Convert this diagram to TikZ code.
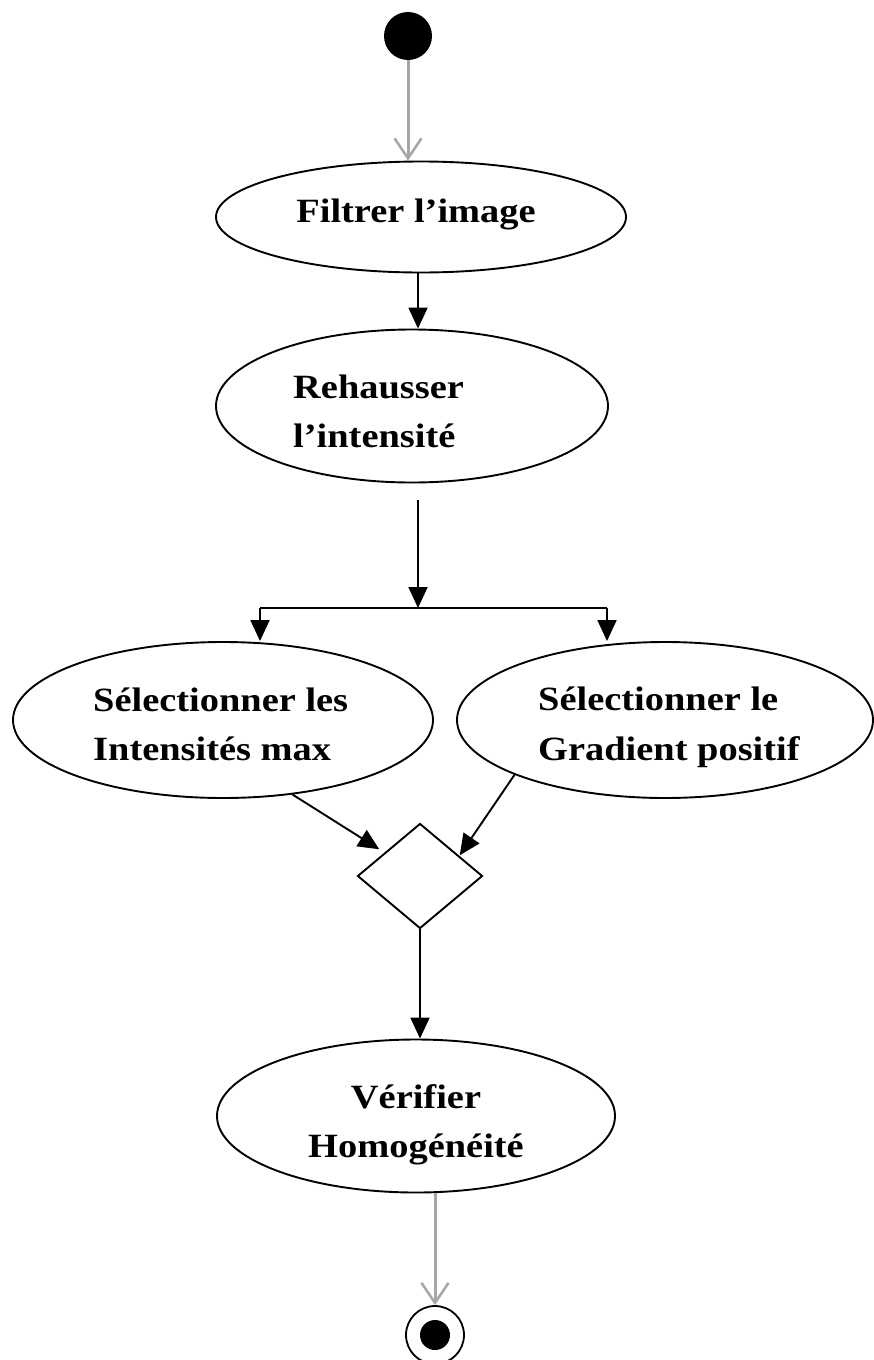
\documentclass[tikz,border=0pt]{standalone}
\usepackage{fontspec}
\setmainfont{Liberation Serif}[FakeStretch=1.13]
\usetikzlibrary{shapes.geometric,arrows.meta,calc}
\begin{document}
\begin{tikzpicture}[x=1pt,y=-1pt,
  act/.style={ellipse,draw=black,line width=1.9pt,inner sep=0pt},
  lbl/.style={anchor=base west,inner sep=0pt,font=\fontsize{34}{44}\selectfont\bfseries},
  clbl/.style={anchor=base,inner sep=0pt,font=\fontsize{34}{44}\selectfont\bfseries},
  flow/.style={draw=black,line width=1.9pt,-{Triangle[length=21pt,width=19pt]}},
  ctl/.style={draw=black!35,line width=3pt,-{Straight Barb[length=20pt,width=27pt,line width=2.5pt]}},
]
\useasboundingbox (0,0) rectangle (873,1360);
% initial node
\node[circle,fill=black,minimum size=48pt,inner sep=0pt] (start) at (408,36) {};
% activities
\node[act,minimum width=410pt,minimum height=111pt] (e1) at (421,217) {};
\node[clbl] (t1) at (416,222) {Filtrer l’image};
\node[act,minimum width=392pt,minimum height=153pt] (e2) at (412,406) {};
\node[lbl] (t2a) at (293,398) {Rehausser};
\node[lbl] (t2b) at (293,447) {l’intensité};
\node[act,minimum width=420pt,minimum height=156pt] (e3) at (223,720) {};
\node[lbl] (t3a) at (93,711) {Sélectionner les};
\node[lbl] (t3b) at (93,760) {Intensités max};
\node[act,minimum width=416pt,minimum height=156pt] (e4) at (665,720) {};
\node[lbl] (t4a) at (538,710) {Sélectionner le};
\node[lbl] (t4b) at (538,760) {Gradient positif};
\node[diamond,draw=black,line width=1.9pt,minimum width=125pt,minimum height=105pt,inner sep=0pt] (dia) at (420,876) {};
\node[act,minimum width=398pt,minimum height=153pt] (e5) at (416,1116) {};
\node[clbl] (t5a) at (416,1108) {Vérifier};
\node[clbl] (t5b) at (416,1157) {Homogénéité};
% final node
\node[circle,draw=black,line width=1.8pt,minimum size=58pt,inner sep=0pt] (fin) at (435,1335) {};
\node[circle,fill=black,minimum size=30pt,inner sep=0pt] (finin) at (fin) {};
% fork coordinates
\coordinate (fork) at (418,608);
\coordinate (fl) at (260,608);
\coordinate (fr) at (607,608);
\coordinate (top2) at (418,500);
% connectors
\draw[ctl] (start) -- (start |- e1.north);
\draw[flow] (e1.south -| top2) -- (top2 |- e2.north);
\draw[flow] (top2) -- (fork);
\draw[line width=1.9pt] (fl) -- (fr);
\draw[flow] (fl) -- (fl |- e3.north);
\draw[flow] (fr) -- (fr |- e4.north);
\draw[flow] (e3.-47) -- ([shift={(-9pt,0pt)}]dia.north west);
\draw[flow] (e4.200) -- ([shift={(8pt,-6pt)}]dia.north east);
\draw[flow] (dia.south) -- (dia.south |- e5.north);
\draw[ctl] (e5.south -| fin) -- (fin.north);
\end{tikzpicture}
\end{document}
